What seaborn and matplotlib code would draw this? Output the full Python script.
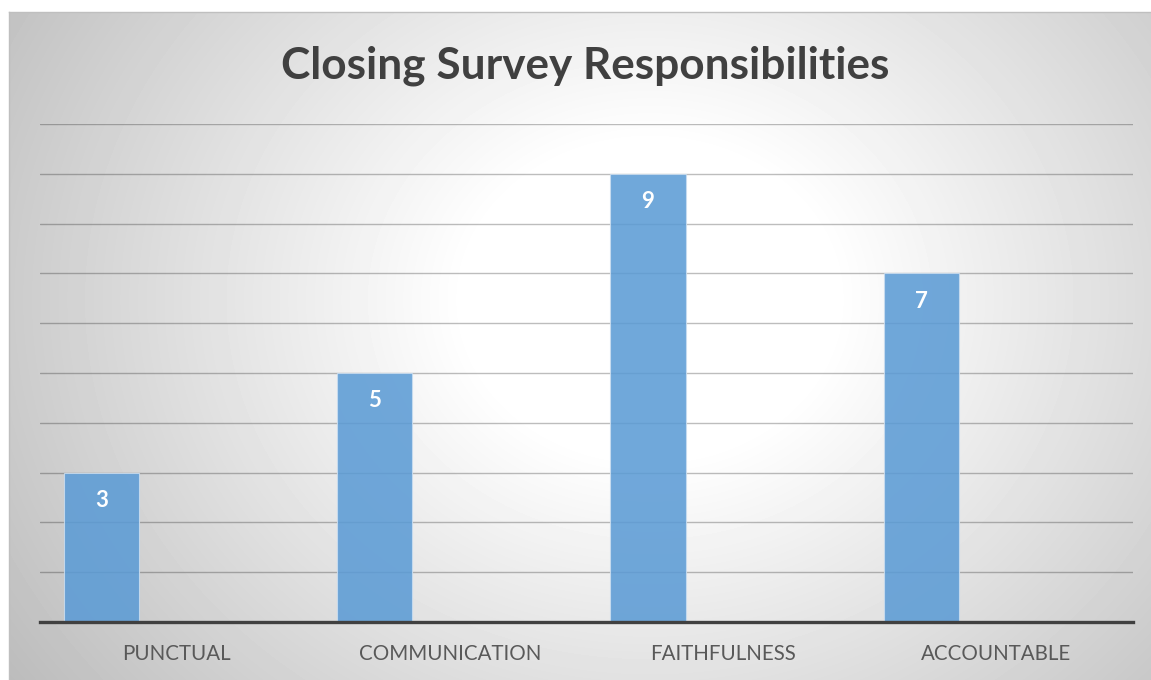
import numpy as np
import pandas as pd
import matplotlib
matplotlib.use("Agg")
import matplotlib.pyplot as plt
import seaborn as sns

# ---- data ----
categories = ["PUNCTUAL", "COMMUNICATION", "FAITHFULNESS", "ACCOUNTABLE"]
values = [3, 5, 9, 7]
series_levels = ["Series1", "Series2", "Series3"]  # only the first holds data
title = "Closing Survey Responsibilities"
y_ticks = list(range(0, 11))

sns.set_theme(style="white")
plt.rcParams["font.family"] = ["Lato", "DejaVu Sans"]

W, H = 1151, 680
fig = plt.figure(figsize=(W / 100, H / 100), dpi=100)
fig.patch.set_facecolor("white")

# ---- chart-area background (radial gradient) ----
x0, y0 = 9, 12
bg_ax = fig.add_axes([x0 / W, 0, 1 - x0 / W, (H - y0) / H])
px = np.arange(x0, W) + 0.5
py = np.arange(y0, H) + 0.5
XX, YY = np.meshgrid(px, py)
cx, cy, rx, ry = 650, 300, 660, 560
r = np.sqrt(((XX - cx) / rx) ** 2 + ((YY - cy) / ry) ** 2)
shade = 1 - 0.21 * np.clip((r - 0.28) / 0.72, 0, 1.3)
bg_ax.imshow(shade, cmap="gray", vmin=0, vmax=1, aspect="auto",
             extent=[0, 1, 0, 1], interpolation="bilinear")
bg_ax.set_xticks([]); bg_ax.set_yticks([])
for s in ["right", "bottom"]:
    bg_ax.spines[s].set_visible(False)
for s in ["left", "top"]:
    bg_ax.spines[s].set_color("#BFBFBF")
    bg_ax.spines[s].set_linewidth(1.0)
bg_ax.set_zorder(0)

# ---- main plot ----
ax = fig.add_axes([40 / W, 58 / H, (1133 - 40) / W, (622 - 124) / H])
ax.set_zorder(1)
ax.patch.set_alpha(0)

df = pd.DataFrame({"category": categories, "value": values,
                   "series": [series_levels[0]] * len(categories)})
bar_color = "#5B9BD5"
sns.barplot(data=df, x="category", y="value", hue="series",
            hue_order=series_levels, order=categories, dodge=True,
            palette={s: bar_color for s in series_levels},
            width=0.825, saturation=1, legend=False, alpha=0.87,
            edgecolor="#C9DDF0", linewidth=0.8, ax=ax, zorder=3)

ax.set_xlim(-0.5, len(categories) - 0.5)
ax.set_ylim(0, 10)
ax.set_yticks(y_ticks)
ax.set_yticklabels([])
ax.yaxis.grid(True, color="black", alpha=0.26, linewidth=1.0)
ax.set_axisbelow(True)
ax.tick_params(axis="y", length=0)
ax.tick_params(axis="x", length=0, pad=16, labelsize=14.8, labelcolor="#595959")
ax.set_xlabel(""); ax.set_ylabel("")
for s in ["left", "right", "top"]:
    ax.spines[s].set_visible(False)
ax.spines["bottom"].set_color("#404040")
ax.spines["bottom"].set_linewidth(2.4)
ax.spines["bottom"].set_zorder(5)

# data labels inside end of bars
for cont in ax.containers:
    for patch in cont.patches:
        h = patch.get_height()
        if np.isnan(h) or h == 0:
            continue
        ax.annotate(f"{h:.0f}", (patch.get_x() + patch.get_width() / 2, h),
                    xytext=(0, -20), textcoords="offset points",
                    ha="center", va="center", color="white",
                    fontsize=16, fontweight="bold", zorder=6)

# title auto-fit to reference width
t = fig.text(585 / W, 1 - 79 / H, title, ha="center", va="baseline",
             fontsize=32, fontweight="bold", color="#404040")
fig.canvas.draw()
bb = t.get_window_extent()
t.set_fontsize(32 * 608 / bb.width)

fig.savefig("out.png", dpi=100, facecolor=fig.get_facecolor())
